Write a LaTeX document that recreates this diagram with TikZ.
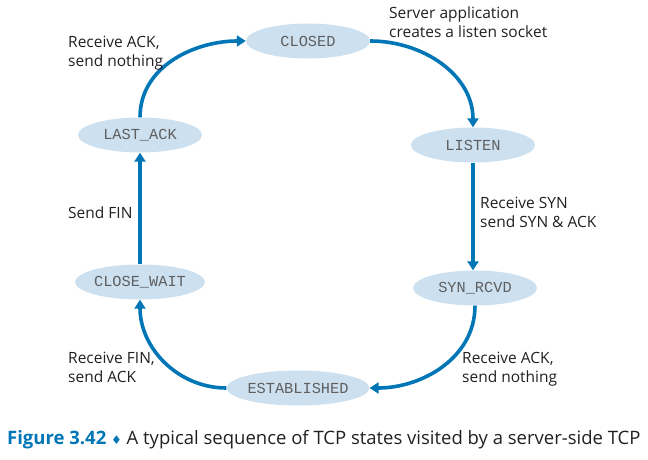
\documentclass[tikz,border=0pt]{standalone}
\usepackage{fontspec}
\setmainfont{Open Sans}
\setmonofont{Liberation Mono}
\newfontfamily\symfont{DejaVu Sans}
\usetikzlibrary{shapes.geometric,arrows.meta}
\definecolor{arrowblue}{RGB}{0,118,182}
\definecolor{ellfill}{RGB}{204,224,240}
\definecolor{monogray}{RGB}{95,95,95}
\definecolor{txt}{RGB}{35,31,32}
\begin{document}
\begin{tikzpicture}[x=1pt,y=1pt,
  state/.style={ellipse,fill=ellfill,minimum width=124pt,minimum height=35pt,inner sep=0pt,
    font=\fontsize{15.3}{16}\ttfamily,text=monogray},
  conn/.style={draw=arrowblue,line width=3.6pt,-{Triangle[length=9pt,width=11pt]}},
  lbl/.style={align=left,anchor=north west,inner sep=0pt,font=\fontsize{15.5}{18.5}\selectfont,text=txt}]
\useasboundingbox (0,0) rectangle (648,459);
\node[state] (closed) at (308,418) {CLOSED};
\node[state] (lastack) at (140,324) {LAST\_ACK};
\node[state] (listen) at (473,314) {LISTEN};
\node[state] (closewait) at (140,177) {CLOSE\_WAIT};
\node[state] (synrcvd) at (475,171) {SYN\_RCVD};
\node[state] (estab) at (298,71) {ESTABLISHED};
\draw[conn] (lastack.north) to[out=90,in=180] (closed.west);
\draw[conn] (closed.east) to[out=0,in=90] (listen.north);
\draw[conn] (listen.south) -- (listen.south |- synrcvd.north);
\draw[conn] (synrcvd.south) to[out=-90,in=0] (estab.east);
\draw[conn] (estab.west) to[out=180,in=-90] (closewait.south);
\draw[conn] (closewait.north) -- (lastack.south);
\node[lbl] (l1) at (68,423) {Receive ACK,\\send nothing};
\node[lbl] (l2) at (389,452) {Server application\\creates a listen socket};
\node[lbl] (l3) at (480,262) {Receive SYN\\send SYN \& ACK};
\node[lbl] (l4) at (68,252) {Send FIN};
\node[lbl] (l5) at (68,107) {Receive FIN,\\send ACK};
\node[lbl] (l6) at (462,107) {Receive ACK,\\send nothing};
\node[anchor=base west,inner sep=0pt,font=\fontsize{18.5}{20}\selectfont,text=txt] (cap) at (7,15)
  {{\color{arrowblue}\bfseries Figure 3.42} {\color{arrowblue}\symfont\fontsize{12}{12}\selectfont\char"2666} A typical sequence of TCP states visited by a server-side TCP};
\end{tikzpicture}
\end{document}
